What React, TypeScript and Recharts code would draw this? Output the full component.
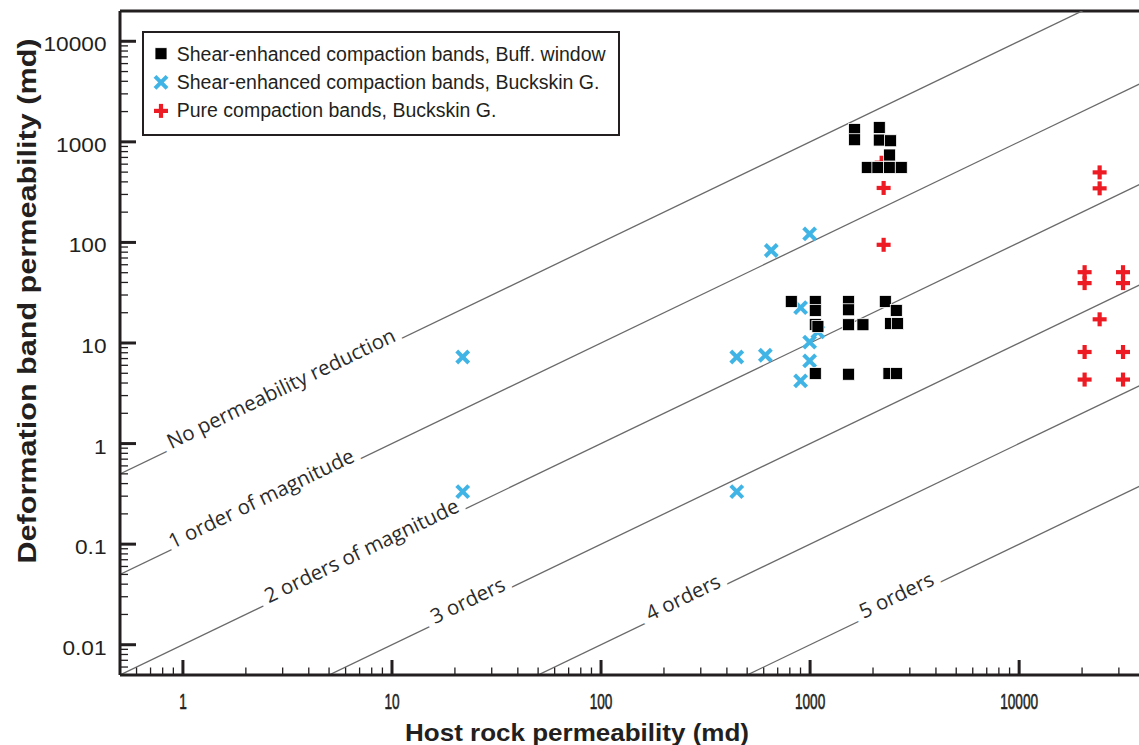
import React from "react";
import {
  ScatterChart,
  Scatter,
  XAxis,
  YAxis,
  ReferenceLine,
  ReferenceDot,
  Legend,
} from "recharts";

type Pt = { x: number; y: number };

// host rock permeability (x) vs deformation band permeability (y), md
const buffWindow: Pt[] = [
  { x: 1633, y: 1327 }, { x: 1633, y: 1050 }, { x: 2143, y: 1390 }, { x: 2143, y: 1042 },
  { x: 2427, y: 1026 }, { x: 2400, y: 740 }, { x: 1878, y: 557 }, { x: 2110, y: 557 },
  { x: 2400, y: 557 }, { x: 2730, y: 557 },
  { x: 813, y: 25.9 }, { x: 1059, y: 25.9 }, { x: 1059, y: 21.1 }, { x: 1059, y: 15.3 },
  { x: 1090, y: 14.6 }, { x: 1528, y: 25.9 }, { x: 1528, y: 21.4 }, { x: 1528, y: 15.2 },
  { x: 1790, y: 15.2 }, { x: 2290, y: 25.9 }, { x: 2585, y: 21.1 }, { x: 2427, y: 15.6 },
  { x: 2620, y: 15.6 },
  { x: 1059, y: 4.97 }, { x: 1528, y: 4.89 }, { x: 2383, y: 4.97 }, { x: 2590, y: 4.97 },
];

const buckskinShear: Pt[] = [
  { x: 21.8, y: 7.26 }, { x: 21.8, y: 0.333 }, { x: 446, y: 7.26 }, { x: 611, y: 7.55 },
  { x: 446, y: 0.333 }, { x: 652, y: 83.1 }, { x: 995, y: 121.7 }, { x: 901, y: 22.5 },
  { x: 995, y: 10.2 }, { x: 995, y: 6.63 }, { x: 901, y: 4.2 }, { x: 1090, y: 12.9 },
];

const buckskinPure: Pt[] = [
  { x: 2248, y: 348 }, { x: 2200, y: 620 }, { x: 2248, y: 94.7 },
  { x: 24270, y: 497 }, { x: 24270, y: 345 },
  { x: 20570, y: 50.6 }, { x: 20570, y: 39.4 }, { x: 31400, y: 50.6 }, { x: 31400, y: 39.4 },
  { x: 24270, y: 17.2 },
  { x: 20570, y: 8.14 }, { x: 31400, y: 8.14 }, { x: 20570, y: 4.33 }, { x: 31400, y: 4.33 },
];

const seriesNames = [
  "Shear-enhanced compaction bands, Buff. window",
  "Shear-enhanced compaction bands, Buckskin G.",
  "Pure compaction bands, Buckskin G.",
];

// reduction lines: band = host / 10^order
const orders = [0, 1, 2, 3, 4, 5];
const orderLabels = [
  "No permeability reduction",
  "1 order of magnitude",
  "2 orders of magnitude",
  "3 orders",
  "4 orders",
  "5 orders",
];
const orderLabelAt = [3.05, 2.45, 7.4, 23.8, 255, 2680];

const xTickLabels = [1, 10, 100, 1000, 10000];
const yTickLabels = [0.01, 0.1, 1, 10, 100, 1000, 10000];

const X_DOMAIN: [number, number] = [0.5, 40000];
const Y_DOMAIN: [number, number] = [0.005, 20000];

const INK = "#231f20";
const BLUE = "#41b4e6";
const RED = "#ed1c24";
const GUIDE = "#6a6a6a";

const CHART_W = 1145;
const CHART_H = 745;
const MARGIN = { top: 11, right: 0, bottom: 0, left: 0 };
const Y_AXIS_W = 120;
const X_AXIS_H = 70;

const plotW = CHART_W - Y_AXIS_W - MARGIN.left - MARGIN.right;
const plotH = CHART_H - X_AXIS_H - MARGIN.top - MARGIN.bottom;
const ANGLE =
  (Math.atan(
    plotH / Math.log10(Y_DOMAIN[1] / Y_DOMAIN[0]) /
      (plotW / Math.log10(X_DOMAIN[1] / X_DOMAIN[0]))
  ) * 180) / Math.PI;

// 1..9 x 10^n ticks within the domain
const logTicks = ([lo, hi]: [number, number]) => {
  const out: number[] = [];
  for (let e = Math.floor(Math.log10(lo)); e <= Math.ceil(Math.log10(hi)); e++) {
    for (let m = 1; m <= 9; m++) {
      const v = Number((m * Math.pow(10, e)).toPrecision(6));
      if (v >= lo && v <= hi) out.push(v);
    }
  }
  return out;
};

const Square = ({ cx, cy }: any) => (
  <rect x={cx - 6} y={cy - 6} width={12} height={12} fill="#000" stroke="#fff" strokeWidth={0.8} />
);

const Cross = ({ cx, cy }: any) => (
  <g stroke={BLUE} strokeWidth={4}>
    <line x1={cx - 6} y1={cy - 6} x2={cx + 6} y2={cy + 6} />
    <line x1={cx - 6} y1={cy + 6} x2={cx + 6} y2={cy - 6} />
  </g>
);

const Plus = ({ cx, cy }: any) => (
  <g stroke={RED} strokeWidth={4.2}>
    <line x1={cx - 7} y1={cy} x2={cx + 7} y2={cy} />
    <line x1={cx} y1={cy - 7} x2={cx} y2={cy + 7} />
  </g>
);

const markers = [Square, Cross, Plus];

const XTick = (props: any) => {
  const { x, y, payload } = props;
  const major = xTickLabels.includes(payload.value);
  return (
    <g>
      <line x1={x} x2={x} y1={y} y2={y - (major ? 15 : 7.5)} stroke={INK} strokeWidth={major ? 3 : 1.3} />
      {major && (
        <text
          transform={`translate(${x},${y + 34}) scale(0.62,1)`}
          textAnchor="middle"
          fontSize={22}
          fontFamily="Liberation Sans, Arial, sans-serif"
          fill={INK}
          stroke={INK}
          strokeWidth={0.6}
        >
          {payload.value}
        </text>
      )}
    </g>
  );
};

const YTick = (props: any) => {
  const { x, y, payload } = props;
  const major = yTickLabels.includes(payload.value);
  return (
    <g>
      <line x1={x} x2={x + (major ? 16 : 8)} y1={y} y2={y} stroke={INK} strokeWidth={major ? 3 : 1.3} />
      {major && (
        <text
          transform={`translate(${x - 13.5},${y + 10}) scale(1.08,1)`}
          textAnchor="end"
          fontSize={21}
          fontFamily="Liberation Sans, Arial, sans-serif"
          fill={INK}
        >
          {String(payload.value)}
        </text>
      )}
    </g>
  );
};

const lineLabel = (text: string) => (props: any) => {
  const { viewBox } = props;
  const cx = viewBox.x + viewBox.width / 2;
  const cy = viewBox.y + viewBox.height / 2;
  return (
    <text
      x={cx}
      y={cy}
      transform={`rotate(${-ANGLE} ${cx} ${cy})`}
      textAnchor="middle"
      fontSize={20.5}
      fontFamily="Open Sans, sans-serif"
      fill="#2b2b2b"
      stroke="#fff"
      strokeWidth={14}
      strokeLinejoin="round"
      paintOrder="stroke"
    >
      {text}
    </text>
  );
};

const LegendBox = () => (
  <svg width={480} height={106}>
    <rect x={2} y={1} width={476} height={103} fill="#fff" stroke={INK} strokeWidth={2} />
    {seriesNames.map((name, i) => {
      const Marker = markers[i];
      return (
        <g key={name}>
          <Marker cx={20} cy={22.7 + i * 28.6} />
          <text
            x={35.7}
            y={29.7 + i * 28.3}
            fontSize={19.5}
            fontFamily="Liberation Sans, Arial, sans-serif"
            fill={INK}
          >
            {name}
          </text>
        </g>
      );
    })}
  </svg>
);

export default function App() {
  return (
    <div
      style={{
        position: "absolute",
        left: 0,
        top: 0,
        width: 1139,
        height: 745,
        overflow: "hidden",
        background: "#fff",
      }}
    >
      <ScatterChart width={CHART_W} height={CHART_H} margin={MARGIN}>
        <XAxis
          dataKey="x"
          type="number"
          scale="log"
          domain={X_DOMAIN}
          allowDataOverflow
          ticks={logTicks(X_DOMAIN)}
          interval={0}
          tickLine={false}
          tickSize={0}
          tickMargin={0}
          tick={<XTick />}
          height={X_AXIS_H}
          axisLine={{ stroke: INK, strokeWidth: 3 }}
          label={{
            content: () => (
              <text
                x={577}
                y={741}
                textAnchor="middle"
                fontSize={24}
                fontWeight="bold"
                fontFamily="Liberation Sans, Arial, sans-serif"
                fill={INK}
                textLength={344}
                lengthAdjust="spacingAndGlyphs"
              >
                Host rock permeability (md)
              </text>
            ),
          }}
        />
        <YAxis
          dataKey="y"
          type="number"
          scale="log"
          domain={Y_DOMAIN}
          allowDataOverflow
          ticks={logTicks(Y_DOMAIN)}
          interval={0}
          tickLine={false}
          tickSize={0}
          tickMargin={0}
          tick={<YTick />}
          width={Y_AXIS_W}
          axisLine={{ stroke: INK, strokeWidth: 3 }}
          label={{
            content: () => (
              <text
                x={35.5}
                y={301}
                transform="rotate(-90 35.5 301)"
                textAnchor="middle"
                fontSize={25}
                fontWeight="bold"
                fontFamily="Liberation Sans, Arial, sans-serif"
                fill={INK}
                textLength={525}
                lengthAdjust="spacingAndGlyphs"
              >
                Deformation band permeability (md)
              </text>
            ),
          }}
        />
        <ReferenceLine y={Y_DOMAIN[1]} stroke={INK} strokeWidth={3} ifOverflow="visible" />
        {orders.map((k) => (
          <ReferenceLine
            key={`line-${k}`}
            segment={[
              { x: X_DOMAIN[0], y: X_DOMAIN[0] / Math.pow(10, k) },
              { x: X_DOMAIN[1], y: X_DOMAIN[1] / Math.pow(10, k) },
            ]}
            stroke={GUIDE}
            strokeWidth={1.3}
            ifOverflow="hidden"
          />
        ))}
        {orders.map((k, i) => (
          <ReferenceDot
            key={`label-${k}`}
            x={orderLabelAt[i]}
            y={orderLabelAt[i] / Math.pow(10, k)}
            r={0}
            shape={() => <g />}
            label={lineLabel(orderLabels[i])}
          />
        ))}
        <Scatter name={seriesNames[1]} data={buckskinShear} shape={Cross} isAnimationActive={false} />
        <Scatter name={seriesNames[2]} data={buckskinPure} shape={Plus} isAnimationActive={false} />
        <Scatter name={seriesNames[0]} data={buffWindow} shape={Square} isAnimationActive={false} />
        <Legend
          layout="horizontal"
          verticalAlign="middle"
          align="center"
          content={() => <LegendBox />}
          wrapperStyle={{ left: 141, top: 31, width: 480, height: 106 }}
        />
      </ScatterChart>
    </div>
  );
}
